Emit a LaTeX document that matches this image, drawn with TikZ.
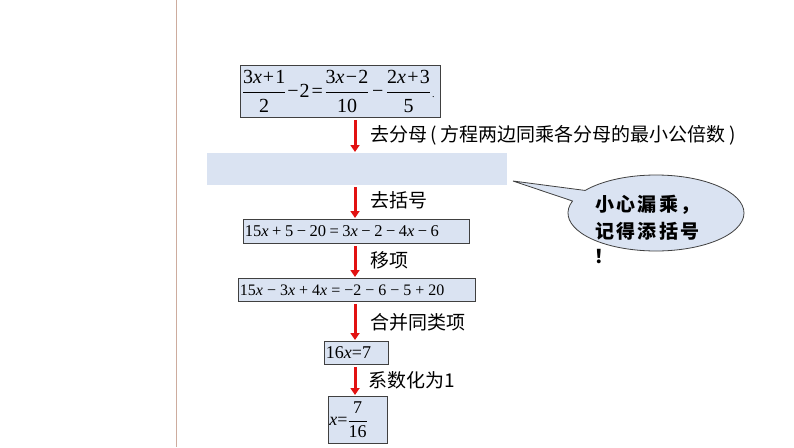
\documentclass[tikz,border=0pt]{standalone}
\usepackage{amsmath}
\usepackage{fontspec}
\setmainfont{Liberation Serif}
\newfontfamily\cjk{Noto Sans CJK SC}
\usetikzlibrary{shapes.callouts,arrows.meta}
\definecolor{boxfill}{RGB}{218,227,242}
\definecolor{boxline}{RGB}{64,64,64}
\definecolor{arrowred}{RGB}{226,18,18}
\definecolor{sideline}{RGB}{205,172,158}
\newcommand\X{\textit{x}}
\newcommand\fr[2]{\ensuremath{\genfrac{}{}{0.7pt}{0}{\hbox{#1}}{\hbox{#2}}}}
\newcommand\op[2]{\kern#1#2\kern#1}
\tikzset{
  eqbox/.style={draw=boxline, line width=0.8pt, fill=boxfill, inner xsep=1.5pt, inner ysep=0pt,
    anchor=north west, align=left},
  steplabel/.style={anchor=west, inner sep=0pt, font=\cjk\fontsize{19}{19}\selectfont},
  redarrow/.style={draw=arrowred, line width=3pt, -{Triangle[width=9pt,length=7pt]},
    shorten <=2pt, shorten >=1pt},
  bubble/.style={ellipse callout, draw=boxline, line width=0.8pt, fill=boxfill,
    minimum width=176pt, minimum height=76pt, inner sep=0pt, callout pointer arc=18},
  bubbletext/.style={anchor=west, inner sep=0pt, align=left,
    font=\cjk\bfseries\fontsize{19}{27}\selectfont\addfontfeature{LetterSpace=12}}
}
\begin{document}
\begin{tikzpicture}[x=1pt,y=-1pt]
\useasboundingbox[fill=white] (0,0) rectangle (794,447);
\draw[sideline, line width=1pt] (176,0) -- (176,447);

\node[eqbox, minimum width=200pt, minimum height=52pt, text width=197pt, inner xsep=1pt,
  font=\fontsize{20}{22}\selectfont] (b1) at (240,65)
  {\fr{3\X\op{1pt}{+}1}{2}\kern1pt−\kern1pt2\kern2pt=\kern1.5pt\fr{3\X\op{1.3pt}{−}2}{10}\op{2.5pt}{−}\fr{2\X\op{1.3pt}{+}3}{5}\kern1pt{\fontsize{10}{10}\selectfont.}};
\node[fill=boxfill, anchor=north west, minimum width=300pt, minimum height=32pt, inner sep=0pt] (b2) at (207,153) {};
\node[eqbox, minimum width=226pt, minimum height=24pt, text width=223pt,
  font=\fontsize{16.5}{18}\selectfont] (b3) at (243,219)
  {15\X\op{3.5pt}{+}5\op{3.5pt}{−}20\op{3.5pt}{=}3\X\op{3.5pt}{−}2\op{3.5pt}{−}4\X\op{3.5pt}{−}6};
\node[eqbox, minimum width=237pt, minimum height=23pt, text width=234pt,
  font=\fontsize{16}{18}\selectfont] (b4) at (238,278)
  {15\X\op{4pt}{−}3\X\op{4pt}{+}4\X\op{4pt}{=}−2\op{4pt}{−}6\op{4pt}{−}5\op{4pt}{+}20};
\node[eqbox, minimum width=64pt, minimum height=23pt, text width=61pt, inner xsep=0.5pt,
  font=\fontsize{18}{20}\selectfont] (b5) at (324,341)
  {16\X=7};
\node[eqbox, minimum width=59pt, minimum height=47pt, text width=57pt, inner xsep=0pt,
  font=\fontsize{18}{20}\selectfont] (b6) at (328,396)
  {\X=\fr{7}{16}};

\coordinate (ax) at (355,0);
\draw[redarrow] (b1.south -| ax) -- (b2.north -| ax);
\draw[redarrow] (b2.south -| ax) -- (b3.north -| ax);
\draw[redarrow] (b3.south -| ax) -- (b4.north -| ax);
\draw[redarrow] (b4.south -| ax) -- (b5.north -| ax);
\draw[redarrow] (b5.south -| ax) -- (b6.north -| ax);

\node[steplabel] (l1) at (370,135) {去分母\kern3pt(\kern4pt方程两边同乘各分母的最小公倍数\kern4pt)};
\node[steplabel] (l2) at (370,200) {去括号};
\node[steplabel] (l3) at (370,260) {移项};
\node[steplabel] (l4) at (370,322) {合并同类项};
\node[steplabel] (l5) at (368,380) {系数化为1};

\node[bubble, callout absolute pointer={(513,181)}] (call) at (656,213) {};
\node[bubbletext] (warn) at (595,217.5) {小心漏乘，\\记得添括号};
\node[bubbletext] (bang) at (594,257) {！};
\end{tikzpicture}
\end{document}
